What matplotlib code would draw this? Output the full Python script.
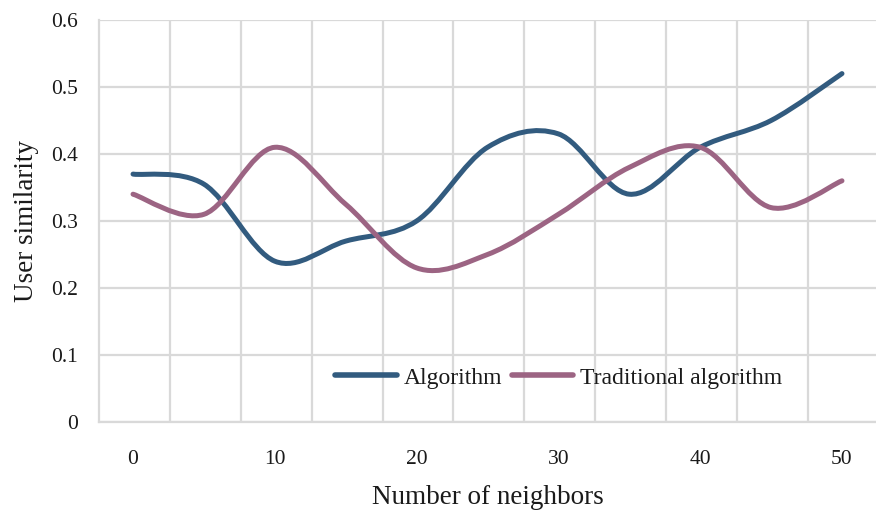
import numpy as np
from matplotlib import pyplot as plt
from matplotlib.path import Path
from matplotlib.patches import PathPatch
from matplotlib.lines import Line2D

plt.rcParams['font.family'] = ['Liberation Serif', 'DejaVu Serif']

neighbors = [0, 5, 10, 15, 20, 25, 30, 35, 40, 45, 50]
algorithm = [0.37, 0.355, 0.24, 0.27, 0.30, 0.41, 0.43, 0.34, 0.41, 0.45, 0.52]
traditional = [0.34, 0.31, 0.41, 0.325, 0.23, 0.25, 0.31, 0.38, 0.41, 0.32, 0.36]

BLUE = '#325b7f'
MAUVE = '#9c6483'
GRID = '#d9d9d9'


def smooth_path(x, y):
    # bezier segments like a spreadsheet "smoothed line"
    p = np.column_stack([x, y])
    pts = np.vstack([p[0], p, p[-1]])
    verts = [p[0]]
    codes = [Path.MOVETO]
    for i in range(1, len(pts) - 2):
        c1 = pts[i] + (pts[i + 1] - pts[i - 1]) / 6.0
        c2 = pts[i + 1] - (pts[i + 2] - pts[i]) / 6.0
        verts += [c1, c2, pts[i + 1]]
        codes += [Path.CURVE4] * 3
    return Path(verts, codes)


fig = plt.figure(figsize=(8.76, 5.14), dpi=100)
ax = fig.add_axes([99 / 876, 92 / 514, 777 / 876, 402 / 514])

for ys, col in [(algorithm, BLUE), (traditional, MAUVE)]:
    patch = PathPatch(smooth_path(neighbors, ys), facecolor='none', edgecolor=col,
                      lw=3.6, capstyle='round', zorder=3)
    ax.add_patch(patch)

ax.set_xlim(-2.4, 52.4)
ax.set_ylim(0, 0.6)
ax.set_xticks([0, 10, 20, 30, 40, 50])
ax.set_xticks(np.arange(2.6, 52, 5), minor=True)
ax.set_yticks(np.arange(0, 0.61, 0.1))
ax.set_yticklabels(['0', '0.1', '0.2', '0.3', '0.4', '0.5', '0.6'])
ax.tick_params(axis='both', which='both', length=0, labelsize=15.5, colors='#1a1a1a')
ax.tick_params(axis='x', pad=20)
ax.tick_params(axis='y', pad=15)
ax.grid(axis='y', color=GRID, lw=1.6)
ax.grid(axis='x', which='minor', color=GRID, lw=1.6)
ax.set_axisbelow(True)
for s in ['top', 'right']:
    ax.spines[s].set_visible(False)
for s in ['left', 'bottom']:
    ax.spines[s].set_color(GRID)
    ax.spines[s].set_linewidth(1.6)

ax.set_xlabel('Number of neighbors', fontsize=19.5, labelpad=12, color='#1a1a1a')
ax.set_ylabel('User similarity', fontsize=19.5, labelpad=9, color='#1a1a1a')

handles = [Line2D([], [], color=BLUE, lw=4, solid_capstyle='round'),
           Line2D([], [], color=MAUVE, lw=4, solid_capstyle='round')]
ax.legend(handles, ['Algorithm', 'Traditional algorithm'], loc='center',
          bbox_to_anchor=(0.592, 0.11), ncol=2, frameon=False, fontsize=17,
          handlelength=2.6, handletextpad=0.3, columnspacing=0.4, labelcolor='#1a1a1a')

plt.savefig('out.png', dpi=100)
plt.close()
